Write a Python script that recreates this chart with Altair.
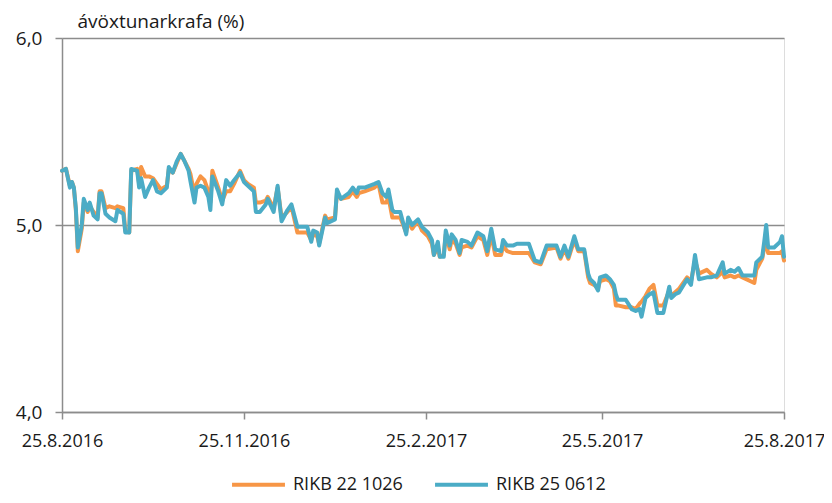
import altair as alt
import pandas as pd

# ---- data ----
base_date = "2016-08-25"
day_offsets = [
    0, 2, 4, 5, 6, 7, 8, 10, 11, 13, 14, 16, 18, 19, 20, 22, 24, 27, 28, 31,
    32, 34, 35, 38, 39, 40, 42, 44, 46, 48, 50, 53, 54, 56, 58, 60, 62, 64, 65, 67,
    68, 70, 72, 74, 75, 76, 79, 81, 83, 85, 87, 90, 92, 94, 97, 98, 100, 103, 104, 107,
    109, 111, 114, 116, 119, 124, 126, 127, 129, 130, 133, 134, 138, 139, 141, 145, 147, 149, 150, 153,
    158, 160, 162, 164, 165, 167, 168, 171, 174, 175, 177, 179, 180, 182, 185, 187, 188, 190, 191, 193,
    194, 196, 197, 199, 201, 202, 205, 207, 210, 213, 215, 217, 219, 222, 223, 225, 228, 230, 236, 239,
    242, 245, 250, 252, 254, 256, 259, 261, 264, 266, 267, 269, 271, 272, 275, 277, 279, 280, 281, 285,
    288, 290, 292, 293, 295, 297, 299, 301, 304, 307, 308, 310, 312, 316, 318, 320, 322, 326, 328, 331,
    334, 335, 338, 340, 342, 344, 350, 351, 354, 355, 356, 357, 360, 363, 364, 365,
]

rikb_22_1026 = [
    5.29, 5.30, 5.21, 5.23, 5.20, 5.08, 4.86, 4.98, 5.12, 5.07, 5.10, 5.07, 5.04, 5.18, 5.18, 5.09, 5.10, 5.09, 5.10, 5.09,
    4.97, 4.96, 5.29, 5.30, 5.22, 5.31, 5.26, 5.26, 5.25, 5.22, 5.19, 5.21, 5.30, 5.28, 5.33, 5.38, 5.34, 5.30, 5.27, 5.16,
    5.22, 5.26, 5.24, 5.18, 5.12, 5.29, 5.20, 5.13, 5.18, 5.18, 5.22, 5.29, 5.24, 5.22, 5.20, 5.12, 5.12, 5.13, 5.15, 5.09,
    5.20, 5.04, 5.07, 5.10, 4.96, 4.96, 4.92, 4.95, 4.94, 4.90, 5.05, 5.03, 5.04, 5.17, 5.14, 5.15, 5.18, 5.15, 5.17, 5.18,
    5.20, 5.22, 5.12, 5.12, 5.15, 5.04, 5.04, 5.04, 4.96, 5.02, 4.98, 5.01, 5.02, 4.97, 4.94, 4.90, 4.84, 4.88, 4.83, 4.84,
    4.95, 4.87, 4.92, 4.90, 4.84, 4.88, 4.89, 4.88, 4.94, 4.92, 4.84, 4.95, 4.84, 4.84, 4.89, 4.86, 4.85, 4.85, 4.85, 4.80,
    4.79, 4.87, 4.88, 4.82, 4.87, 4.82, 4.92, 4.86, 4.86, 4.72, 4.69, 4.68, 4.66, 4.70, 4.71, 4.70, 4.66, 4.57, 4.57, 4.56,
    4.56, 4.55, 4.58, 4.59, 4.62, 4.66, 4.68, 4.57, 4.57, 4.65, 4.62, 4.64, 4.66, 4.72, 4.70, 4.81, 4.74, 4.76, 4.74, 4.72,
    4.75, 4.72, 4.73, 4.72, 4.73, 4.72, 4.69, 4.76, 4.82, 4.88, 4.90, 4.85, 4.85, 4.85, 4.86, 4.81,
]

rikb_25_0612 = [
    5.29, 5.30, 5.20, 5.23, 5.20, 5.09, 4.88, 5.00, 5.14, 5.08, 5.12, 5.05, 5.03, 5.17, 5.17, 5.06, 5.04, 5.02, 5.08, 5.06,
    4.96, 4.96, 5.30, 5.29, 5.20, 5.25, 5.15, 5.20, 5.24, 5.18, 5.17, 5.20, 5.31, 5.28, 5.34, 5.38, 5.34, 5.29, 5.23, 5.12,
    5.20, 5.21, 5.20, 5.15, 5.08, 5.26, 5.18, 5.11, 5.24, 5.21, 5.24, 5.28, 5.23, 5.21, 5.18, 5.07, 5.07, 5.11, 5.14, 5.07,
    5.21, 5.02, 5.08, 5.11, 4.99, 4.99, 4.91, 4.97, 4.96, 4.89, 5.04, 5.01, 5.03, 5.19, 5.14, 5.17, 5.20, 5.17, 5.20, 5.20,
    5.22, 5.23, 5.17, 5.15, 5.19, 5.08, 5.07, 5.07, 4.95, 5.04, 5.00, 5.02, 5.03, 4.99, 4.96, 4.92, 4.84, 4.91, 4.83, 4.83,
    4.97, 4.89, 4.95, 4.92, 4.85, 4.92, 4.91, 4.89, 4.96, 4.94, 4.86, 4.98, 4.87, 4.86, 4.92, 4.89, 4.89, 4.90, 4.90, 4.81,
    4.80, 4.89, 4.89, 4.83, 4.89, 4.83, 4.94, 4.87, 4.87, 4.74, 4.71, 4.69, 4.65, 4.72, 4.73, 4.71, 4.68, 4.63, 4.60, 4.60,
    4.55, 4.54, 4.55, 4.51, 4.61, 4.63, 4.64, 4.53, 4.53, 4.67, 4.61, 4.63, 4.64, 4.71, 4.68, 4.84, 4.71, 4.72, 4.72, 4.73,
    4.80, 4.74, 4.76, 4.75, 4.77, 4.73, 4.73, 4.80, 4.83, 4.91, 5.00, 4.88, 4.88, 4.91, 4.94, 4.83,
]

series_names = ["RIKB 22 1026", "RIKB 25 0612"]
series_colors = ["#F79646", "#4BACC6"]
y_ticks = [4, 5, 6]
x_tick_dates = [(2016, 8, 25), (2016, 11, 25), (2017, 2, 25), (2017, 5, 25), (2017, 8, 25)]
y_title = "ávöxtunarkrafa (%)"

# ---- table ----
dates = (pd.Timestamp(base_date) + pd.to_timedelta(day_offsets, unit="D")).strftime("%Y-%m-%d")
df = pd.concat([
    pd.DataFrame({"date": dates, "value": rikb_22_1026, "series": series_names[0]}),
    pd.DataFrame({"date": dates, "value": rikb_25_0612, "series": series_names[1]}),
])

FONT = "Open Sans"
GREY = "#8C8C8C"
TXT = "#1a1a1a"

x_values = [alt.DateTime(year=y, month=m, date=d, utc=True) for (y, m, d) in x_tick_dates]

chart = alt.Chart(df).mark_line(strokeWidth=4, strokeJoin="round", strokeCap="round").encode(
    x=alt.X(
        "date:T",
        scale=alt.Scale(type="utc", domain=[x_values[0], x_values[-1]]),
        axis=alt.Axis(
            title=None,
            values=x_values,
            labelExpr="utcdate(datum.value) + '.' + (utcmonth(datum.value) + 1) + '.' + utcyear(datum.value)",
            grid=False,
            domainColor=GREY,
            domainWidth=1.5,
            tickColor=GREY,
            tickWidth=1.5,
            tickSize=7,
            labelPadding=13,
            labelFontSize=18,
            labelFont=FONT,
            labelColor=TXT,
            labelOverlap=False,
            labelBound=False,
            labelFlush=False,
        ),
    ),
    y=alt.Y(
        "value:Q",
        scale=alt.Scale(domain=[4, 6], nice=False, zero=False),
        axis=alt.Axis(
            title=y_title,
            titleAngle=0,
            titleAlign="left",
            titleBaseline="alphabetic",
            titleX=15,
            titleY=-11,
            titleFont=FONT,
            titleFontSize=19,
            titleFontWeight="normal",
            titleColor=TXT,
            values=y_ticks,
            labelExpr="replace(format(datum.value, '.1f'), '.', ',')",
            grid=True,
            gridColor=GREY,
            gridWidth=1.5,
            domainColor=GREY,
            domainWidth=1.5,
            tickColor=GREY,
            tickWidth=1.5,
            tickSize=7,
            labelPadding=13,
            labelFontSize=19,
            labelFont=FONT,
            labelColor=TXT,
        ),
    ),
    color=alt.Color(
        "series:N",
        scale=alt.Scale(domain=series_names, range=series_colors),
        legend=alt.Legend(
            title=None,
            orient="none",
            legendX=168,
            legendY=418,
            direction="horizontal",
            symbolType="stroke",
            symbolSize=2800,
            symbolStrokeWidth=4,
            labelFont=FONT,
            labelFontSize=18,
            labelColor=TXT,
            labelOffset=6,
            columnPadding=24,
        ),
    ),
).properties(
    width=722,
    height=374,
    autosize="none",
    padding={"left": 54, "top": 30, "right": 40, "bottom": 83},
).configure_view(stroke=None).configure(background="white")

chart.save("out.html", embed_options={"renderer": "svg", "actions": False})
